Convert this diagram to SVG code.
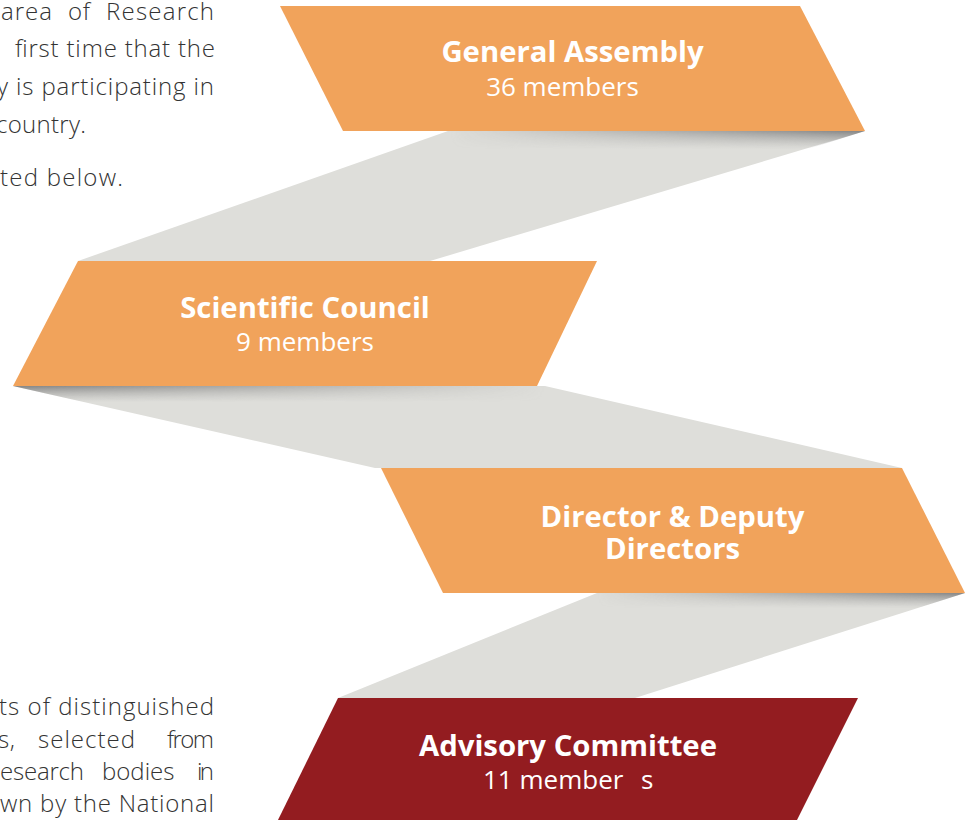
<svg xmlns="http://www.w3.org/2000/svg" width="971" height="820" viewBox="0 0 971 820">
<style>
.body{font-family:"Open Sans","Noto Sans",sans-serif;font-size:24px;font-weight:300;fill:#333333}
.ttl{font-family:"Open Sans","Noto Sans",sans-serif;font-size:29.3px;font-weight:700;fill:#ffffff;text-anchor:middle}
.sub{font-family:"Open Sans","Noto Sans",sans-serif;font-size:26px;font-weight:400;fill:#ffffff;text-anchor:middle}
.rib{fill:#dededa}
.org{fill:#f1a35b}
.red{fill:#931c20}
</style>
<defs>
<linearGradient id="sv1" gradientUnits="userSpaceOnUse" x1="0" y1="131" x2="0" y2="149"><stop offset="0" stop-color="#6f6f6f" stop-opacity="0.8"/><stop offset="1" stop-color="#9a9a9a" stop-opacity="0"/></linearGradient>
<linearGradient id="sv2" gradientUnits="userSpaceOnUse" x1="0" y1="386" x2="0" y2="402"><stop offset="0" stop-color="#6f6f6f" stop-opacity="0.8"/><stop offset="1" stop-color="#9a9a9a" stop-opacity="0"/></linearGradient>
<linearGradient id="sv3" gradientUnits="userSpaceOnUse" x1="0" y1="593" x2="0" y2="608"><stop offset="0" stop-color="#6f6f6f" stop-opacity="0.8"/><stop offset="1" stop-color="#9a9a9a" stop-opacity="0"/></linearGradient>
<linearGradient id="mh1" gradientUnits="userSpaceOnUse" x1="450" y1="0" x2="865" y2="0"><stop offset="0" stop-color="#fff" stop-opacity="0"/><stop offset="1" stop-color="#fff" stop-opacity="1"/></linearGradient>
<linearGradient id="mh2" gradientUnits="userSpaceOnUse" x1="545" y1="0" x2="13" y2="0"><stop offset="0" stop-color="#fff" stop-opacity="0"/><stop offset="1" stop-color="#fff" stop-opacity="1"/></linearGradient>
<linearGradient id="mh3" gradientUnits="userSpaceOnUse" x1="597" y1="0" x2="965" y2="0"><stop offset="0" stop-color="#fff" stop-opacity="0"/><stop offset="1" stop-color="#fff" stop-opacity="1"/></linearGradient>
<mask id="m1" maskUnits="userSpaceOnUse" x="0" y="0" width="971" height="820"><rect x="0" y="120" width="971" height="40" fill="url(#mh1)"/></mask>
<mask id="m2" maskUnits="userSpaceOnUse" x="0" y="0" width="971" height="820"><rect x="0" y="375" width="971" height="40" fill="url(#mh2)"/></mask>
<mask id="m3" maskUnits="userSpaceOnUse" x="0" y="0" width="971" height="820"><rect x="0" y="582" width="971" height="40" fill="url(#mh3)"/></mask>
</defs>
<g id="text-top">
<text class="body" y="20"><tspan x="1" textLength="51" lengthAdjust="spacing">area</tspan><tspan x="68" textLength="22" lengthAdjust="spacing">of</tspan><tspan x="106" textLength="108" lengthAdjust="spacing">Research</tspan></text>
<text class="body" x="15" y="57" textLength="200" lengthAdjust="spacing">first time that the</text>
<text class="body" x="-3" y="95" textLength="217" lengthAdjust="spacing">y is participating in</text>
<text class="body" x="-4" y="133" textLength="90" lengthAdjust="spacing">country.</text>
<text class="body" x="0" y="186" textLength="123" lengthAdjust="spacing">ted below.</text>
</g>
<g id="text-bottom">
<text class="body" x="-1" y="715" textLength="215" lengthAdjust="spacing">ts of distinguished</text>
<text class="body" y="748"><tspan x="-2" textLength="17" lengthAdjust="spacing">s,</tspan><tspan x="38" textLength="97" lengthAdjust="spacing">selected</tspan><tspan x="167" textLength="47" lengthAdjust="spacing">from</tspan></text>
<text class="body" y="780"><tspan x="0" textLength="84" lengthAdjust="spacing">esearch</tspan><tspan x="102">bodies</tspan><tspan x="197" textLength="17" lengthAdjust="spacing">in</tspan></text>
<text class="body" x="0" y="812" textLength="214" lengthAdjust="spacing">wn by the National</text>
</g>
<g id="connectors">
<polygon class="rib" points="448,131 865,131 430,261 78,261"/>
<polygon points="448,131 865,131 808,149 397,149" fill="url(#sv1)" mask="url(#m1)"/>
<polygon class="rib" points="13,386 545,386 902,468 375,468"/>
<polygon points="13,386 545,386 615,402 83,402" fill="url(#sv2)" mask="url(#m2)"/>
<polygon class="rib" points="597,593 965,593 635,698 338,698"/>
<polygon points="597,593 965,593 918,608 560,608" fill="url(#sv3)" mask="url(#m3)"/>
</g>
<g id="general-assembly">
<polygon class="org" points="280,6 800,6 865,131 343,131"/>
<text class="ttl" x="572.5" y="62">General Assembly</text>
<text class="sub" x="562.5" y="96">36 members</text>
</g>
<g id="scientific-council">
<polygon class="org" points="78,261 597,261 537,386 13,386"/>
<text class="ttl" x="305" y="318">Scientific Council</text>
<text class="sub" x="305" y="351">9 members</text>
</g>
<g id="director-deputy">
<polygon class="org" points="381,468 902,468 965,593 443,593"/>
<text class="ttl" x="672.5" y="527">Director &amp; Deputy</text>
<text class="ttl" x="672.5" y="559">Directors</text>
</g>
<g id="advisory-committee">
<polygon class="red" points="338,698 858,698 796,822 277,822"/>
<text class="ttl" x="568" y="756">Advisory Committee</text>
<text class="sub" y="789"><tspan x="483" text-anchor="start">11 member</tspan><tspan x="641" text-anchor="start">s</tspan></text>
</g>
</svg>
